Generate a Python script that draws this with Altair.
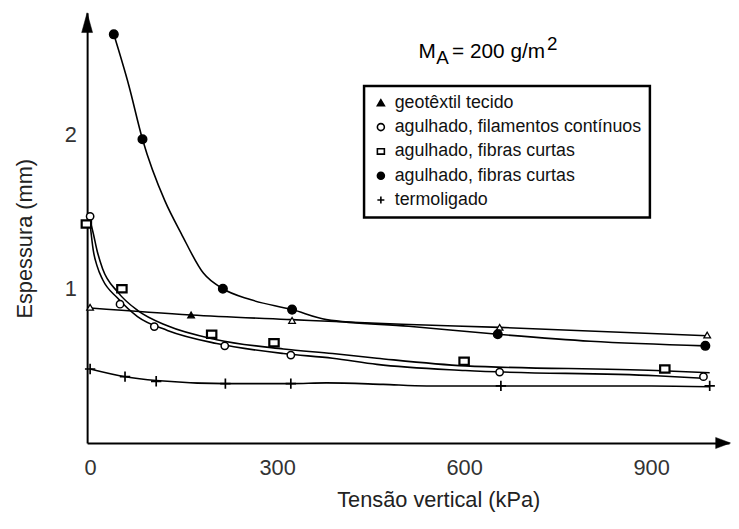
import altair as alt
import pandas as pd

# ---------------- data ----------------
series = [
    "geotêxtil tecido",
    "agulhado, filamentos contínuos",
    "agulhado, fibras curtas",
    "agulhado, fibras curtas ",   # second series with the same printed label
    "termoligado",
]

# markers (x = kPa, y = mm)
tri_x = [0, 162, 324, 657, 990]
tri_y = [0.88, 0.83, 0.795, 0.75, 0.70]
tri_open = [True, False, True, True, True]

circ_x = [0, 48, 103, 216, 322, 657, 984]
circ_y = [1.47, 0.90, 0.755, 0.63, 0.57, 0.46, 0.43]

sq_x = [-6, 51, 195, 295, 600, 922]
sq_y = [1.42, 1.00, 0.705, 0.65, 0.53, 0.48]

dot_x = [38, 84, 213, 324, 654, 987]
dot_y = [2.65, 1.97, 1.00, 0.865, 0.705, 0.63]

plus_x = [0, 56, 106, 217, 322, 659, 994]
plus_y = [0.48, 0.43, 0.40, 0.385, 0.385, 0.37, 0.37]

# drawn curves
c_tri_x = [0, 162, 324, 500, 657, 990]
c_tri_y = [0.875, 0.83, 0.80, 0.77, 0.75, 0.695]

c_sq_x = [0, 5, 11, 20, 44, 76, 124, 203, 310, 389, 460, 602, 908, 994]
c_sq_y = [1.44, 1.36, 1.25, 1.13, 0.98, 0.86, 0.76, 0.67, 0.61, 0.58, 0.55, 0.50, 0.47, 0.455]

c_circ_x = [0, 5, 11, 20, 44, 76, 124, 203, 310, 389, 460, 602, 908, 983]
c_circ_y = [1.42, 1.25, 1.15, 1.06, 0.94, 0.82, 0.73, 0.645, 0.58, 0.55, 0.51, 0.47, 0.436, 0.42]

c_dot_x = [38, 62, 84, 120, 146, 182, 213, 257, 324, 379, 511, 654, 803, 987]
c_dot_y = [2.65, 2.32, 1.97, 1.57, 1.36, 1.10, 1.00, 0.93, 0.865, 0.80, 0.757, 0.705, 0.66, 0.63]

c_plus_x = [0, 56, 106, 217, 322, 379, 470, 540, 659, 900, 994]
c_plus_y = [0.48, 0.43, 0.405, 0.385, 0.385, 0.39, 0.38, 0.37, 0.37, 0.37, 0.365]

title_parts = ["M", "A", "= 200 g/m", "2"]
x_ticks = [0, 300, 600, 900]
y_ticks = [1, 2]

# ---------------- tables ----------------
pts = []
for k, xs, ys in [(series[1], circ_x, circ_y), (series[2], sq_x, sq_y),
                  (series[3], dot_x, dot_y), (series[4], plus_x, plus_y)]:
    for a, b in zip(xs, ys):
        pts.append({"key": k, "x": a, "y": b, "open": False})
for a, b, o in zip(tri_x, tri_y, tri_open):
    pts.append({"key": series[0], "x": a, "y": b, "open": o})
pts = pd.DataFrame(pts)

crv = []
for k, xs, ys in [("tri", c_tri_x, c_tri_y), ("sq", c_sq_x, c_sq_y),
                  ("circ", c_circ_x, c_circ_y), ("dot", c_dot_x, c_dot_y),
                  ("plus", c_plus_x, c_plus_y)]:
    for i, (a, b) in enumerate(zip(xs, ys)):
        crv.append({"curve": k, "x": a, "y": b, "i": i})
crv = pd.DataFrame(crv)

FONT = "Liberation Sans"
xsc = alt.Scale(domain=[-4.8, 1025], nice=False, zero=False)
ysc = alt.Scale(domain=[0, 2.79], nice=False)

X = alt.X("x:Q", scale=xsc, axis=alt.Axis(values=x_ticks, format="d", title="Tensão vertical (kPa)",
                                          titleX=355, titleY=57, titleBaseline="middle",
                                          labelPadding=15))
Y = alt.Y("y:Q", scale=ysc, axis=alt.Axis(values=y_ticks, format="d", title="Espessura (mm)",
                                          titleX=-63, titleY=228, titleAngle=-90,
                                          titleAlign="center", titleBaseline="middle",
                                          labelPadding=11))

lines = alt.Chart(crv).mark_line(color="black", strokeWidth=1.6, interpolate="monotone").encode(
    x=X, y=Y, detail="curve:N", order="i:Q")

square_path = "M-1,-0.78L1,-0.78L1,0.78L-1,0.78Z"
plus_path = "M-1,0L1,0M0,-1L0,1"
shapes = ["triangle-up", "circle", square_path, "circle", plus_path]
fills = ["black", "white", "white", "black", "black"]
strokes = ["black"] * 5
sizes = [45, 55, 90, 75, 110]
widths = [1.3, 1.5, 2.2, 1.5, 1.7]

legend = alt.Legend(title=None, orient="none", legendX=280, legendY=74, padding=8,
                    strokeColor="black", fillColor="white",
                    labelFont=FONT, labelFontSize=18, labelColor="#111111", labelOffset=5,
                    symbolSize=50, symbolStrokeWidth=1.6,
                    rowPadding=6.6, labelLimit=400)
shape_enc = alt.Shape("key:N", scale=alt.Scale(domain=series, range=shapes), legend=legend)
fill_enc = alt.Fill("key:N", scale=alt.Scale(domain=series, range=fills), legend=legend)
stroke_enc = alt.Stroke("key:N", scale=alt.Scale(domain=series, range=strokes), legend=legend)

point_layers = []
for i, name in enumerate(series):
    sub = pts[pts["key"] == name]
    for is_open in (False, True):
        part = sub[sub["open"] == is_open]
        if len(part) == 0:
            continue
        base = alt.Chart(part).mark_point(filled=True, opacity=1,
                                          size=sizes[i], strokeWidth=widths[i])
        if is_open:
            enc = base.encode(x=alt.X("x:Q", scale=xsc), y=alt.Y("y:Q", scale=ysc),
                              shape=shape_enc, stroke=stroke_enc, fill=alt.value("white"))
        else:
            enc = base.encode(x=alt.X("x:Q", scale=xsc), y=alt.Y("y:Q", scale=ysc),
                              shape=shape_enc, stroke=stroke_enc, fill=fill_enc)
        point_layers.append(enc)

one = pd.DataFrame({"v": [0]})
t_m = alt.Chart(one).mark_text(text=title_parts[0], font=FONT, fontSize=21, align="left",
                               baseline="alphabetic", color="black").encode(
    x=alt.value(335), y=alt.value(46))
t_a = alt.Chart(one).mark_text(text=title_parts[1], font=FONT, fontSize=19, align="left",
                               baseline="alphabetic", color="black").encode(
    x=alt.value(353), y=alt.value(52))
t_eq = alt.Chart(one).mark_text(text=title_parts[2], font=FONT, fontSize=21, align="left",
                                baseline="alphabetic", color="black").encode(
    x=alt.value(369), y=alt.value(46))
t_2 = alt.Chart(one).mark_text(text=title_parts[3], font=FONT, fontSize=19, align="left",
                               baseline="alphabetic", color="black").encode(
    x=alt.value(465), y=alt.value(38))

arrow_up = alt.Chart(one).mark_point(shape="M0,-1L-0.55,1L0.55,1Z", filled=True, fill="black",
                                     stroke="black", strokeWidth=0.5, size=400, opacity=1).encode(
    x=alt.value(0), y=alt.value(10))
arrow_right = alt.Chart(one).mark_point(shape="M1,0L-1,-0.75L-1,0.75Z", filled=True, fill="black",
                                        stroke="black", strokeWidth=0.5, size=225, opacity=1).encode(
    x=alt.value(643), y=alt.value(435))

chart = alt.layer(lines, *point_layers, t_m, t_a, t_eq, t_2, arrow_up, arrow_right).properties(
    width=649, height=435,
    autosize=alt.AutoSizeParams(type="none"),
    padding={"left": 80, "top": 2, "right": 2, "bottom": 70},
    background="white",
).configure_view(stroke=None).configure_axis(
    grid=False, ticks=False, tickSize=0, domainColor="black", domainWidth=2,
    labelFont=FONT, labelFontSize=22, labelColor="#333333",
    titleFont=FONT, titleFontSize=22, titleFontWeight="normal", titleColor="#222222",
).configure_legend(strokeWidth=2.5)

chart.save("out.html", embed_options={"renderer": "svg", "actions": False})
